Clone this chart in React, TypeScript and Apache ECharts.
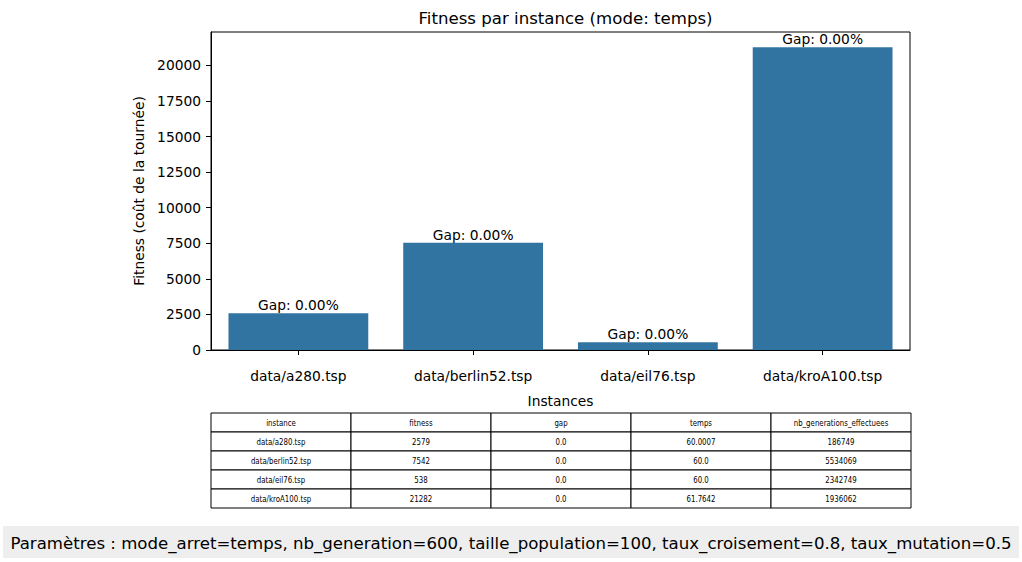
import React, { useEffect, useRef } from "react";
import * as echarts from "echarts";

const instances = ["data/a280.tsp", "data/berlin52.tsp", "data/eil76.tsp", "data/kroA100.tsp"];
const fitness = [2579, 7542, 538, 21282];
const gaps = [0.0, 0.0, 0.0, 0.0];
const temps = ["60.0007", "60.0", "60.0", "61.7642"];
const nbGenerations = [186749, 5534069, 2342749, 1936062];
const tableHeaders = ["instance", "fitness", "gap", "temps", "nb_generations_effectuees"];
const yTicks = [0, 2500, 5000, 7500, 10000, 12500, 15000, 17500, 20000];
const paramsText =
  "Paramètres : mode_arret=temps, nb_generation=600, taille_population=100, taux_croisement=0.8, taux_mutation=0.5";

const FONT = "DejaVu Sans";

export default function App() {
  const ref = useRef<HTMLDivElement>(null);
  useEffect(() => {
    if (!ref.current) return;
    const chart = echarts.init(ref.current, undefined, { renderer: "svg" });

    const tLeft = 211;
    const tTop = 413;
    const colW = 140;
    const rowH = 19;
    const rows: string[][] = [
      tableHeaders,
      ...instances.map((inst, i) => [
        inst,
        String(fitness[i]),
        gaps[i].toFixed(1),
        temps[i],
        String(nbGenerations[i]),
      ]),
    ];
    const tableEls: any[] = [];
    rows.forEach((row, r) => {
      row.forEach((cell, c) => {
        tableEls.push({
          type: "rect",
          shape: { x: tLeft + c * colW, y: tTop + r * rowH, width: colW, height: rowH },
          style: { fill: "#fff", stroke: "#000", lineWidth: 1 },
        });
        tableEls.push({
          type: "group",
          x: tLeft + c * colW + colW / 2,
          y: tTop + r * rowH + rowH / 2,
          scaleX: 0.74,
          children: [
            {
              type: "text",
              x: 0,
              y: 0,
              style: {
                text: cell,
                fontSize: 9.5,
                fontFamily: FONT,
                fill: "#000",
                textAlign: "center",
                textVerticalAlign: "middle",
              },
            },
          ],
        });
      });
    });

    chart.setOption({
      animation: false,
      title: {
        text: "Fitness par instance (mode: temps)",
        left: 560.5,
        top: 5,
        textAlign: "center",
        textStyle: { fontFamily: FONT, fontSize: 16.6, fontWeight: "normal", color: "#000" },
      },
      grid: {
        left: 211,
        top: 32,
        width: 699,
        height: 318,
        show: true,
        borderColor: "#000",
        borderWidth: 1,
        backgroundColor: "transparent",
      },
      xAxis: {
        type: "category",
        data: instances,
        name: "Instances",
        nameLocation: "middle",
        nameGap: 44,
        nameTextStyle: { fontFamily: FONT, fontSize: 13.8, color: "#000" },
        axisLine: { show: true, lineStyle: { color: "#000", width: 1 } },
        axisTick: { show: true, alignWithLabel: true, length: 5, lineStyle: { color: "#000" } },
        axisLabel: { fontFamily: FONT, fontSize: 13.8, color: "#000", margin: 19 },
        splitLine: { show: false },
      },
      yAxis: {
        type: "value",
        min: 0,
        max: 22346,
        interval: 2500,
        name: "Fitness (coût de la tournée)",
        nameLocation: "middle",
        nameGap: 57,
        nameTextStyle: { fontFamily: FONT, fontSize: 13.8, color: "#000" },
        axisLine: { show: true, lineStyle: { color: "#000", width: 1 } },
        axisTick: { show: true, length: 5, lineStyle: { color: "#000" }, customValues: yTicks },
        axisLabel: {
          fontFamily: FONT,
          fontSize: 13.8,
          color: "#000",
          margin: 10,
          customValues: yTicks,
          formatter: (v: number) => String(v),
        },
        splitLine: { show: false },
      },
      series: [
        {
          type: "bar",
          data: fitness,
          barCategoryGap: "20%",
          itemStyle: { color: "#3274a1" },
          label: {
            show: true,
            position: "top",
            distance: 1,
            fontFamily: FONT,
            fontSize: 13.8,
            color: "#000",
            formatter: (p: any) => `Gap: ${gaps[p.dataIndex].toFixed(2)}%`,
          },
        },
      ],
      graphic: [
        ...tableEls,
        {
          type: "rect",
          shape: { x: 3, y: 526, width: 1016, height: 32 },
          style: { fill: "#eeeeee" },
        },
        {
          type: "text",
          x: 511,
          y: 543,
          style: {
            text: paramsText,
            fontFamily: FONT,
            fontSize: 16.6,
            fill: "#000",
            textAlign: "center",
            textVerticalAlign: "middle",
          },
        },
      ],
    });
    return () => chart.dispose();
  }, []);
  return (
    <div
      ref={ref}
      style={{ position: "fixed", left: 0, top: 0, width: 1022, height: 562, background: "#fff" }}
    />
  );
}
